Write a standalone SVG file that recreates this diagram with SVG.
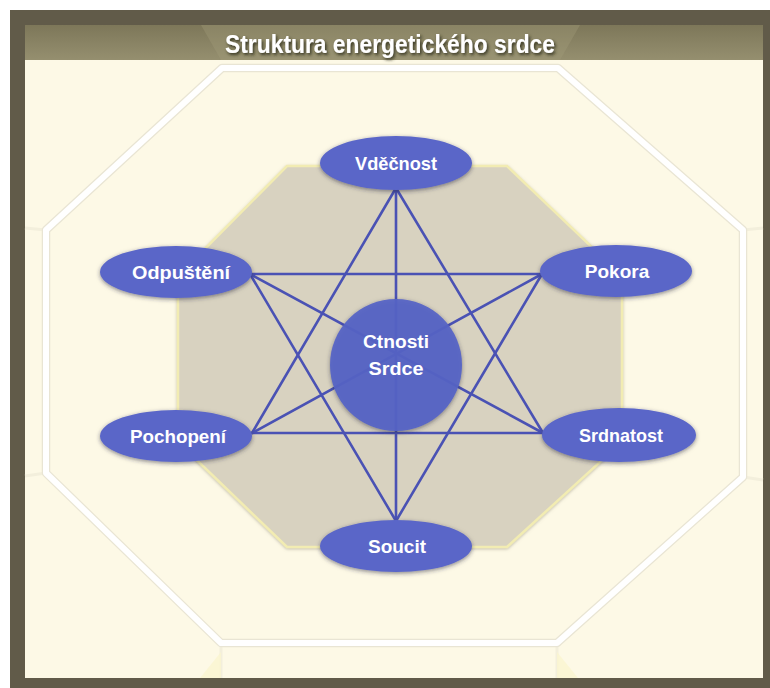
<svg xmlns="http://www.w3.org/2000/svg" width="770" height="688" viewBox="0 0 770 688">
<defs>
<linearGradient id="hdr" x1="0" y1="0" x2="0" y2="1">
<stop offset="0" stop-color="#7d7759"/>
<stop offset="1" stop-color="#958f6f"/>
</linearGradient>
<filter id="sh" x="-20%" y="-30%" width="140%" height="160%">
<feDropShadow dx="0" dy="1.5" stdDeviation="2" flood-color="#2a2a40" flood-opacity="0.55"/>
</filter>
<filter id="tsh" x="-10%" y="-40%" width="120%" height="180%">
<feDropShadow dx="1.5" dy="2" stdDeviation="1.8" flood-color="#2b2818" flood-opacity="0.9"/>
</filter>
<filter id="osh" x="-10%" y="-10%" width="120%" height="120%">
<feDropShadow dx="0" dy="1" stdDeviation="1.5" flood-color="#8a8470" flood-opacity="0.5"/>
</filter>
<style>
.node{fill:#5a66c8;filter:url(#sh)}
.lbl{font-family:"Liberation Sans",Arial,sans-serif;font-weight:bold;font-size:19px;fill:#ffffff;text-anchor:middle}
.edge{stroke:#4a52b4;stroke-width:2.6;fill:none;stroke-linecap:round}
.wline{fill:none;stroke:#ffffff;stroke-width:6;stroke-linejoin:round}
.wshadow{fill:none;stroke:#e9e5d4;stroke-width:8.5;stroke-linejoin:round}
.faint{stroke:#f3efdc;stroke-width:3;fill:none}
</style>
</defs>

<!-- frame -->
<rect x="10" y="10" width="760" height="678" fill="#615b49"/>
<rect x="25" y="60" width="738" height="618" fill="#fdf9e6"/>
<rect x="25" y="25" width="738" height="35" fill="url(#hdr)"/>
<polygon points="201,25 580,25 560,60 221,60" fill="#a39d7c" opacity="0.35"/>

<!-- background tiling lines -->
<g id="background">
<polyline class="faint" points="46,230 25,228"/>
<polyline class="faint" points="46,473 25,476"/>
<polyline class="faint" points="743,230 763,228"/>
<polyline class="faint" points="743,477 763,480"/>
<polyline class="faint" points="221,643 221,678"/>
<polyline class="faint" points="557,643 557,678"/>
<polygon points="221,652 221,678 200,678" fill="#faf5cf" opacity="0.8"/>
<polygon points="557,652 557,678 578,678" fill="#faf5cf" opacity="0.8"/>
<polygon class="wshadow" points="222,68 558,68 743,230 743,477 557,643 221,643 46,473 46,230"/>
<polygon class="wline" points="222,68 558,68 743,230 743,477 557,643 221,643 46,473 46,230"/>
</g>

<!-- inner octagon -->
<polygon id="octagon" points="287,166 507,166 622,276 622,442 507,547 287,547 178,442 178,276" fill="#d8d2c0" stroke="#f2ecb2" stroke-width="2.5" filter="url(#osh)"/>

<!-- title -->
<text x="390" y="53" font-family="'Liberation Sans',Arial,sans-serif" font-weight="bold" font-size="26" fill="#ffffff" text-anchor="middle" textLength="330" lengthAdjust="spacingAndGlyphs" filter="url(#tsh)">Struktura energetického srdce</text>

<!-- connectors -->
<g id="connectors">
<line class="edge" x1="396" y1="188" x2="252" y2="433"/>
<line class="edge" x1="396" y1="188" x2="543" y2="433"/>
<line class="edge" x1="396" y1="188" x2="396" y2="521"/>
<line class="edge" x1="252" y1="433" x2="543" y2="433"/>
<line class="edge" x1="250" y1="274" x2="542" y2="274"/>
<line class="edge" x1="250" y1="274" x2="396" y2="521"/>
<line class="edge" x1="542" y1="274" x2="396" y2="521"/>
<line class="edge" x1="250" y1="274" x2="543" y2="433"/>
<line class="edge" x1="542" y1="274" x2="252" y2="433"/>
</g>

<!-- nodes -->
<g id="center">
<circle cx="396" cy="365" r="66" fill="#5563c6" fill-opacity="0.93" filter="url(#sh)"/>
<text class="lbl" x="396" y="348" textLength="66" lengthAdjust="spacingAndGlyphs">Ctnosti</text>
<text class="lbl" x="396" y="375" textLength="55" lengthAdjust="spacingAndGlyphs">Srdce</text>
</g>
<g id="vdecnost">
<ellipse class="node" cx="396" cy="163" rx="76" ry="27"/>
<text class="lbl" x="396" y="170" textLength="82" lengthAdjust="spacingAndGlyphs">Vděčnost</text>
</g>
<g id="odpusteni">
<ellipse class="node" cx="176" cy="272" rx="76" ry="26"/>
<text class="lbl" x="181" y="279" textLength="98" lengthAdjust="spacingAndGlyphs">Odpuštění</text>
</g>
<g id="pokora">
<ellipse class="node" cx="616" cy="271" rx="76" ry="26"/>
<text class="lbl" x="617" y="278">Pokora</text>
</g>
<g id="pochopeni">
<ellipse class="node" cx="176" cy="436" rx="76" ry="26"/>
<text class="lbl" x="178" y="443" textLength="96" lengthAdjust="spacingAndGlyphs">Pochopení</text>
</g>
<g id="srdnatost">
<ellipse class="node" cx="619" cy="435" rx="77" ry="27"/>
<text class="lbl" x="621" y="442" textLength="84" lengthAdjust="spacingAndGlyphs">Srdnatost</text>
</g>
<g id="soucit">
<ellipse class="node" cx="396" cy="546" rx="76" ry="26"/>
<text class="lbl" x="397" y="553">Soucit</text>
</g>
</svg>
